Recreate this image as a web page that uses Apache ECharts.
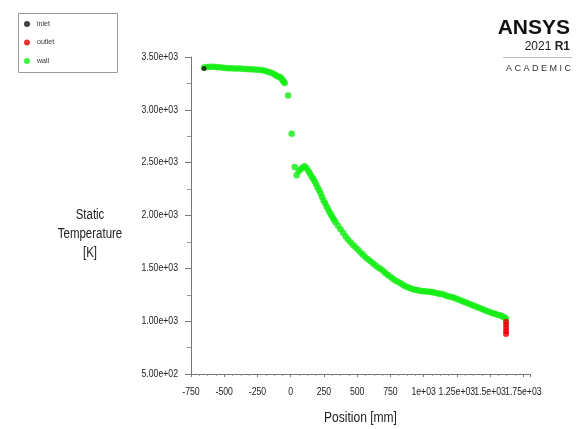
<!DOCTYPE html>
<html>
<head>
<meta charset="utf-8">
<style>
  html, body { margin: 0; padding: 0; background: #ffffff; }
  #chart { width: 576px; height: 429px; }
</style>
<script src="https://cdn.jsdelivr.net/npm/echarts@6/dist/echarts.min.js"></script>
</head>
<body>
<div id="chart"></div>
<script>
// Static temperature along the wall: position in mm, temperature in K
const wallPosition = [
  -652, -630, -607, -585, -562, -540, -517, -495, -472, -450, -427, -405, -382,
  -360, -337, -315, -292, -270, -247, -225, -202, -184, -165, -146, -127, -112,
  -97, -82, -71, -60, -52, -45, -20, 7, 30, 45, 60, 75, 90, 105, 120, 135,
  146, 157, 169, 180, 191, 202, 214, 225, 236, 247, 259, 270, 281, 292, 304,
  315, 326, 337, 356, 375, 394, 412, 431, 450, 469, 487, 506, 525, 544, 562,
  581, 600, 619, 637, 656, 675, 694, 712, 731, 750, 769, 787, 806, 825, 844,
  862, 881, 900, 919, 937, 956, 975, 994, 1012, 1031, 1050, 1069, 1087, 1106,
  1125, 1144, 1162, 1181, 1200, 1219, 1237, 1256, 1275, 1294, 1312, 1331, 1350,
  1369, 1387, 1406, 1425, 1444, 1462, 1481, 1500, 1519, 1537, 1556, 1575, 1590,
  1605, 1620
];
const wallTemperature = [
  3400, 3405, 3408, 3408, 3405, 3402, 3400, 3396, 3394, 3393, 3392, 3391, 3390,
  3389, 3387, 3385, 3383, 3381, 3379, 3376, 3372, 3366, 3358, 3350, 3340, 3328,
  3315, 3310, 3298, 3280, 3266, 3253, 3135, 2774, 2458, 2380, 2418, 2437, 2455, 2465, 2446, 2418,
  2394, 2370, 2347, 2323, 2295, 2266, 2238, 2209, 2176, 2143, 2115, 2086, 2058, 2030, 2006,
  1982, 1959, 1935, 1902, 1869, 1836, 1803, 1774, 1746, 1722, 1699, 1675, 1651, 1628, 1604,
  1585, 1566, 1547, 1528, 1509, 1495, 1476, 1457, 1438, 1420, 1401, 1386, 1372, 1358, 1344,
  1330, 1320, 1311, 1301, 1297, 1292, 1287, 1282, 1282, 1278, 1278, 1273, 1268, 1263,
  1259, 1254, 1245, 1235, 1230, 1226, 1216, 1207, 1197, 1188, 1178, 1169, 1159,
  1150, 1140, 1131, 1122, 1112, 1103, 1093, 1084, 1074, 1070, 1060, 1055, 1046,
  1036, 1022
];
const inletPosition = [-652];
const inletTemperature = [3390];
const outletPosition = [1620, 1620, 1620, 1620, 1620];
const outletTemperature = [995, 965, 935, 905, 878];

// Axis ranges and tick spacing
const xMin = -750, xMax = 1800, xStep = 250;
const yMin = 500, yMax = 3500, yStep = 500;

function pairs(xs, ys) { return xs.map((x, i) => [x, ys[i]]); }

const sans = '"Liberation Sans", Arial, sans-serif';
const condense = 0.87;   // horizontal squeeze for the narrow tick lettering

function xLabel(v) {
  if (v % xStep !== 0) return '';
  if (Math.abs(v) >= 1000) return String(v / 1000) + 'e+03';
  return String(v);
}
function yLabel(v) {
  if (v >= 1000) return (v / 1000).toFixed(2) + 'e+03';
  return (v / 100).toFixed(2) + 'e+02';
}

const chart = echarts.init(document.getElementById('chart'), null, { renderer: 'canvas' });

chart.setOption({
  backgroundColor: '#ffffff',
  animation: false,
  grid: { left: 191, top: 57, right: 46, bottom: 55, containLabel: false, outerBoundsMode: 'none' },
  legend: {
    orient: 'vertical',
    left: 18, top: 13,
    padding: [7, 6, 7, 6],
    itemWidth: 10, itemHeight: 6, itemGap: 10.5,
    icon: 'circle',
    textStyle: { fontFamily: sans, fontSize: 7, color: '#333', lineHeight: 8 },
    data: ['inlet', 'outlet', 'wall']
  },
  xAxis: {
    type: 'value', min: xMin, max: xMax, interval: xStep,
    name: 'Position [mm]', nameLocation: 'middle', nameGap: 37,
    nameTextStyle: { fontFamily: sans, fontSize: 14, color: '#222' },
    axisLine: { show: true, onZero: false, lineStyle: { color: '#777', width: 1 } },
    axisTick: { show: true, length: 3, lineStyle: { color: '#777' } },
    minorTick: { show: true, splitNumber: 4, length: 2, lineStyle: { color: '#999' } },
    splitLine: { show: false },
    axisLabel: { fontFamily: sans, fontSize: 10, color: '#222', margin: 13,
                 showMaxLabel: false, formatter: xLabel }
  },
  yAxis: {
    type: 'value', min: yMin, max: yMax, interval: yStep,
    axisLine: { show: true, onZero: false, lineStyle: { color: '#777', width: 1 } },
    axisTick: { show: true, length: 6, lineStyle: { color: '#777' } },
    minorTick: { show: true, splitNumber: 2, length: 4, lineStyle: { color: '#999' } },
    splitLine: { show: false },
    axisLabel: { fontFamily: sans, fontSize: 10, color: '#222', margin: 13, formatter: yLabel }
  },
  graphic: [
    { type: 'rect', left: 18, top: 13, z: -1,
      shape: { width: 99, height: 59 },
      style: { fill: '#ffffff', stroke: '#999', lineWidth: 1 } },
    { type: 'text', x: 90, y: 234, z: 10, scaleX: 0.82,
      style: { text: 'Static\nTemperature\n[K]', font: '14px ' + sans, fill: '#222',
               textAlign: 'center', textVerticalAlign: 'middle', lineHeight: 19 } },
    { type: 'text', right: 6, top: 18,
      style: { text: 'ANSYS', font: 'bold 21px ' + sans, fill: '#111', textAlign: 'right' } },
    { type: 'text', right: 6, top: 41,
      style: { text: '{a|2021 }{b|R1}',
               rich: { a: { font: '12px ' + sans, fill: '#222' },
                       b: { font: 'bold 12px ' + sans, fill: '#222' } } } },
    { type: 'line', shape: { x1: 503, y1: 57.5, x2: 572, y2: 57.5 },
      style: { stroke: '#bbb', lineWidth: 1 } },
    { type: 'text', right: 5, top: 64,
      style: { text: 'A C A D E M I C', font: '9px ' + sans, fill: '#333' } }
  ],
  series: [
    { name: 'inlet', type: 'scatter', symbol: 'circle', symbolSize: 5, z: 4,
      itemStyle: { color: '#111111' }, data: pairs(inletPosition, inletTemperature) },
    { name: 'outlet', type: 'scatter', symbol: 'circle', symbolSize: 6, z: 3,
      itemStyle: { color: '#e00000' }, data: pairs(outletPosition, outletTemperature) },
    { name: 'wall', type: 'scatter', symbol: 'circle', symbolSize: 6.5, z: 2,
      itemStyle: { color: '#11ee11' }, data: pairs(wallPosition, wallTemperature) }
  ]
});

// Squeeze the axis lettering horizontally so it reads like a narrow face.
(function squeezeAxisText() {
  const zr = chart.getZr();
  const isAxisText = (t) => /e\+0\d$/.test(t) || /^-?\d+$/.test(t) || t === 'Position [mm]';
  zr.storage.getDisplayList(true).forEach(function (el) {
    const t = el.style && el.style.text;
    if (typeof t === 'string' && isAxisText(t)) {
      el.originX = el.style.x || 0;
      el.originY = el.style.y || 0;
      el.scaleX = t === 'Position [mm]' ? 0.86 : condense;
      el.markRedraw();
    }
  });
  zr.refreshImmediately();
})();
</script>
</body>
</html>
